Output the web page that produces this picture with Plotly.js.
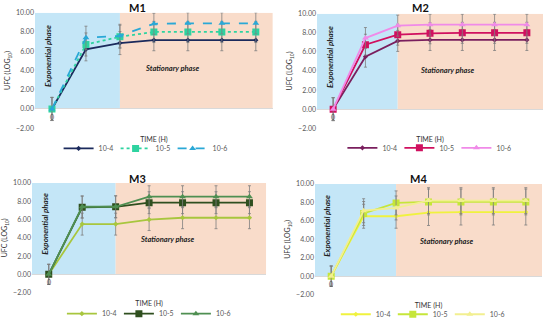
<!DOCTYPE html>
<html><head><meta charset="utf-8">
<script src="https://cdn.plot.ly/plotly-3.0.1.min.js"></script>
<style>html,body{margin:0;padding:0;background:#fff}#c{width:550px;height:329px}</style>
</head><body><div id="c"></div>
<script>
const categories = ['0','48','72','168','192','216','240'];
const seriesNames = ['10-4','10-5','10-6'];

const m1_104 = [0, 6.2, 6.85, 7.15, 7.15, 7.15, 7.15];
const m1_105 = [0, 6.7, 7.5, 8.0, 8.0, 8.0, 8.0];
const m1_106 = [0, 7.4, 7.6, 8.85, 8.9, 8.9, 8.9];
const m1_err = [1.2, 1.2, 1.2, 1.1, 1.1, 1.1, 1.1];

const m2_104 = [0, 5.5, 7.15, 7.25, 7.25, 7.25, 7.25];
const m2_105 = [0, 6.75, 7.8, 7.95, 8.0, 8.0, 8.0];
const m2_106 = [0, 7.45, 8.75, 8.85, 8.85, 8.85, 8.85];
const m2_err = [1.2, 1.1, 1.1, 1.1, 1.1, 1.1, 1.1];

const m3_104 = [0, 5.5, 5.5, 6.0, 6.2, 6.2, 6.2];
const m3_105 = [0, 7.35, 7.4, 7.85, 7.85, 7.85, 7.85];
const m3_106 = [0, 7.4, 7.4, 8.5, 8.5, 8.5, 8.5];
const m3_err = [1.1, 1.2, 1.2, 1.2, 1.2, 1.2, 1.2];

const m4_104 = [0, 6.5, 6.5, 6.9, 6.95, 6.95, 6.95];
const m4_105 = [0, 6.8, 7.95, 8.05, 8.05, 8.05, 8.05];
const m4_106 = [0, 7.1, 7.4, 8.2, 8.2, 8.2, 8.2];
const m4_err = [1.1, 1.3, 1.3, 1.4, 1.4, 1.4, 1.4];

const panels = [
  {title:'M1', data:[m1_104,m1_105,m1_106], err:m1_err,
   colors:['#1b2a5c','#2ed3a0','#2aa8d6'], dash:['solid','dot','dash'],
   xd:[0.0636,0.496], yd:[0.6018,0.9605], tx:137, ty:8, lx:0.262, ly:0.539, sx:3.55, sy:4.2},
  {title:'M2', data:[m2_104,m2_105,m2_106], err:m2_err,
   colors:['#7a1f5e','#d0105f','#f08ae8'], dash:['solid','solid','solid'],
   xd:[0.5764,0.9873], yd:[0.6018,0.9574], tx:420, ty:8, lx:0.778, ly:0.541, sx:3.55, sy:4.0},
  {title:'M3', data:[m3_104,m3_105,m3_106], err:m3_err,
   colors:['#a8c63e','#2f4f1f','#4f8f52'], dash:['solid','solid','solid'],
   xd:[0.0582,0.484], yd:[0.0912,0.4316], tx:137, ty:182, lx:0.268, ly:0.026, sx:3.55, sy:3.8},
  {title:'M4', data:[m4_104,m4_105,m4_106], err:m4_err,
   colors:['#f0f23e','#c6e63a','#f2ef90'], dash:['solid','solid','solid'],
   xd:[0.5727,0.9855], yd:[0.0851,0.4286], tx:418, ty:182, lx:0.766, ly:0.024, sx:3.55, sy:3.8}
];
const symbols = ['diamond','square','triangle-up'];
const msizes = [4,7,6];
const fontFam = 'Lato, "Open Sans", sans-serif';

const traces = [];
const layout = {
  width:550, height:329, margin:{l:0,r:0,t:0,b:0},
  paper_bgcolor:'#fff', plot_bgcolor:'rgba(0,0,0,0)',
  font:{family:fontFam, size:7, color:'#595959'},
  shapes:[], annotations:[]
};

panels.forEach((p,i)=>{
  const n = i+1;
  const xa = 'x'+(n===1?'':n), ya = 'y'+(n===1?'':n);
  const xk = 'xaxis'+(n===1?'':n), yk = 'yaxis'+(n===1?'':n);
  const lg = n===1?'legend':'legend'+n;
  layout[xk] = {domain:p.xd, anchor:ya, type:'category', range:[-0.5,6.5],
    showticklabels:false, showgrid:false, zeroline:false, showline:false, ticks:'',
    fixedrange:true,
    title:{text:'TIME (H)', font:{size:7, color:'#333', family:fontFam}, standoff:8}};
  layout[yk] = {domain:p.yd, anchor:xa, range:[-2,10], dtick:2, tickformat:'.2f',
    showgrid:false, zeroline:true, zerolinecolor:'#d9d9d9', zerolinewidth:1,
    showline:false, ticks:'', tickfont:{size:7,color:'#595959'},
    title:{text:'UFC (LOG<sub>10</sub>)', font:{size:7,color:'#333',family:fontFam}, standoff:4}};
  layout[lg] = {orientation:'h', x:p.lx, y:p.ly, xanchor:'center', yanchor:'middle',
    xref:'paper', yref:'paper', font:{size:7,color:'#595959'}, bgcolor:'rgba(0,0,0,0)',
    itemwidth:30, entrywidth:12, entrywidthmode:'pixels', tracegroupgap:0};
  layout.shapes.push({type:'rect', xref:xa, yref:ya, x0:-0.5, x1:2, y0:0, y1:10,
    fillcolor:'#c4e6f7', line:{width:0}, layer:'below'});
  layout.shapes.push({type:'rect', xref:xa, yref:ya, x0:2, x1:6.5, y0:0, y1:10,
    fillcolor:'#f9dcca', line:{width:0}, layer:'below'});
  categories.forEach(c=>{
    layout.annotations.push({x:c, y:0, xref:xa, yref:ya, text:c, showarrow:false,
      yanchor:'top', yshift:-2, font:{size:7,color:'#595959'}});
  });
  layout.annotations.push({x:-0.12, y:5.5, xref:xa, yref:ya, text:'<b><i>Exponential phase</i></b>',
    textangle:-90, showarrow:false, font:{size:8,color:'#222'}});
  layout.annotations.push({x:p.sx, y:p.sy, xref:xa, yref:ya, text:'<b><i>Stationary phase</i></b>',
    showarrow:false, font:{size:7.5,color:'#222'}});
  layout.annotations.push({x:p.tx/550, y:1-p.ty/329, xref:'paper', yref:'paper',
    xanchor:'center', yanchor:'middle',
    text:'<b>'+p.title+'</b>', showarrow:false, font:{size:11,color:'#111'}});
  p.data.forEach((vals,k)=>{
    traces.push({type:'scatter', mode:'lines+markers', x:categories, y:vals,
      name:seriesNames[k], xaxis:xa, yaxis:ya, legend:lg,
      line:{color:p.colors[k], width:1.8, dash:p.dash[k]},
      marker:{symbol:symbols[k], size:msizes[k], color:p.colors[k]},
      error_y:{type:'data', array:p.err, visible:true, color:'#7f7f7f', thickness:0.8, width:1.5}});
  });
});

Plotly.newPlot('c', traces, layout, {staticPlot:true});
</script></body></html>
